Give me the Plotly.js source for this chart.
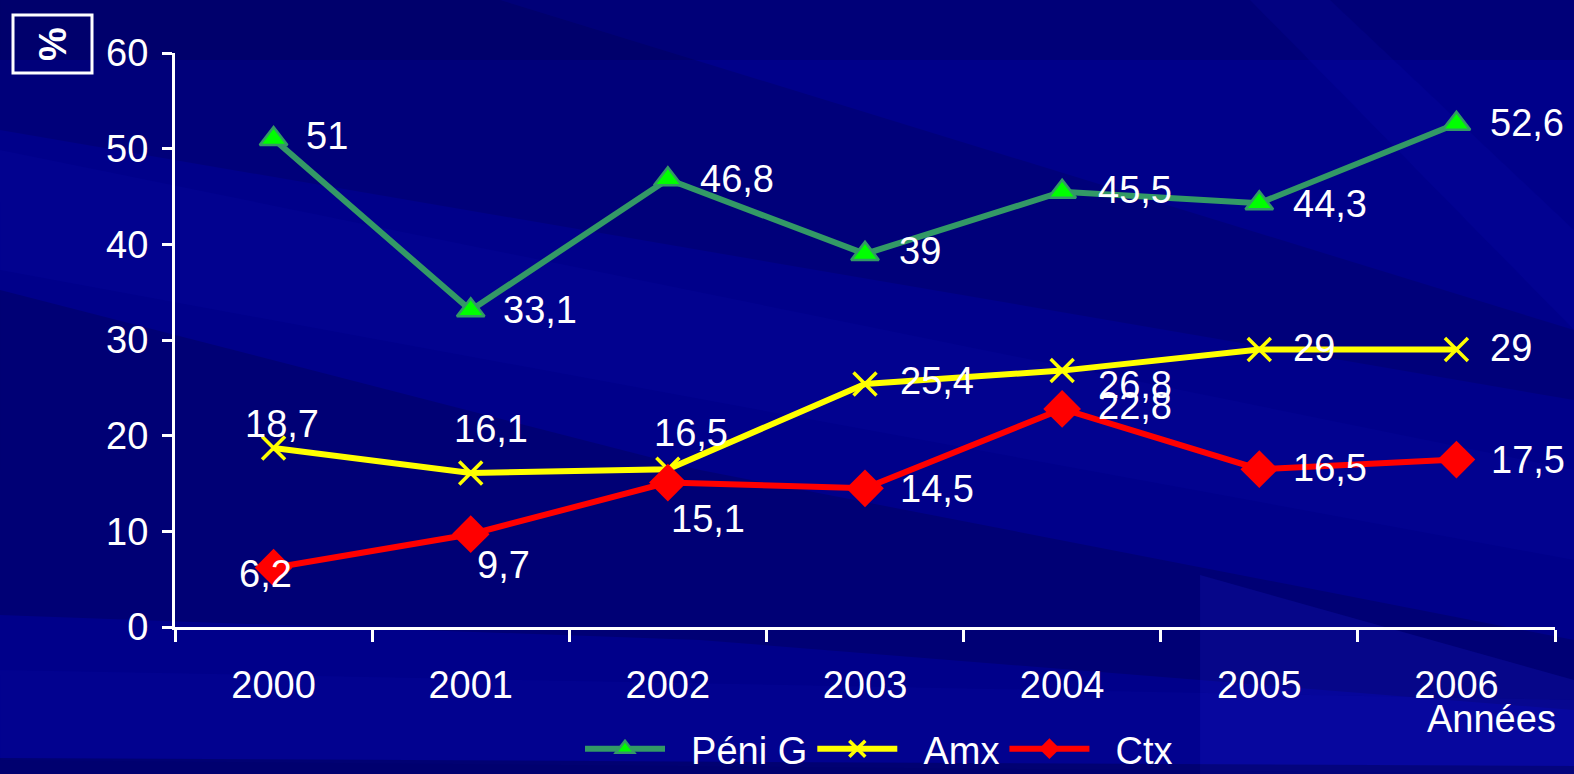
<!DOCTYPE html>
<html>
<head>
<meta charset="utf-8">
<script src="https://cdn.plot.ly/plotly-3.0.1.min.js"></script>
<style>
html,body{margin:0;padding:0;background:#00008a;}
#chart{width:1574px;height:774px;}
</style>
</head>
<body>
<div id="chart"></div>
<script>
// ---- data ----
var years = ["2000", "2001", "2002", "2003", "2004", "2005", "2006"];
var peniG = [51, 33.1, 46.8, 39, 45.5, 44.3, 52.6];
var amx   = [18.7, 16.1, 16.5, 25.4, 26.8, 29, 29];
var ctx   = [6.2, 9.7, 15.1, 14.5, 22.8, 16.5, 17.5];
var seriesNames = ["Péni G", "Amx", "Ctx"];
var yTicks = [0, 10, 20, 30, 40, 50, 60];
var xTitle = "Années";
var yTitle = "%";

// ---- label placement (style only): [xshift, yshift, xanchor] ----
var peniOff = [[30,3,"left"],[30,0,"left"],[30,0,"left"],[32,3,"left"],[34,2,"left"],[32,-1,"left"],[32,1,"left"]];
var amxOff  = [[8,24,"center"],[20,44,"center"],[23,36,"center"],[33,3,"left"],[34,-14,"left"],[32,2,"left"],[32,2,"left"]];
var ctxOff  = [[-8,-6,"center"],[4,-31,"left"],[1,-36,"left"],[33,-1,"left"],[34,3,"left"],[32,1,"left"],[33,0,"left"]];

var FONT = "Liberation Sans, Arial, sans-serif";
var FS = 38;

function fmt(v){ return String(v).replace(".", ","); }

// pixel -> paper helpers for decoration (plot area 175..1555 x, 53..627 y)
function PX(x){ return (x-175)/1380; }
function PY(y){ return (627-y)/574; }
function poly(pts){
  return "M" + pts.map(function(p){ return PX(p[0]).toFixed(4)+","+PY(p[1]).toFixed(4); }).join(" L") + " Z";
}
function bg(pts, col){
  return {type: "path", xref: "paper", yref: "paper", layer: "below", line: {width: 0},
          fillcolor: col, path: poly(pts)};
}

var GAP = "\u00a0\u00a0";

var traces = [
  {x: years, y: peniG, name: GAP + seriesNames[0], type: "scatter", mode: "lines+markers",
   line: {color: "#339966", width: 6},
   marker: {symbol: "triangle-up", size: 24, color: "#00ff00", line: {color: "#339966", width: 2.5}},
   hoverinfo: "skip"},
  {x: years, y: amx, name: GAP + seriesNames[1], type: "scatter", mode: "lines+markers",
   line: {color: "#ffff00", width: 6},
   marker: {symbol: "x-thin", size: 23, color: "#ffff00", line: {color: "#ffff00", width: 3.5}},
   hoverinfo: "skip"},
  {x: years, y: ctx, name: GAP + seriesNames[2] + "\u00a0", type: "scatter", mode: "lines+markers",
   line: {color: "#ff0000", width: 6},
   marker: {symbol: "diamond", size: 29, color: "#ff0000", line: {width: 0}},
   hoverinfo: "skip"}
];

var annotations = [];
function addLabels(vals, offs){
  vals.forEach(function(v, i){
    annotations.push({
      x: i, y: v, xref: "x", yref: "y", text: fmt(v), showarrow: false,
      xanchor: offs[i][2], yanchor: "middle", xshift: offs[i][0], yshift: offs[i][1],
      font: {family: FONT, size: FS, color: "#ffffff"}
    });
  });
}
addLabels(peniG, peniOff);
addLabels(amx, amxOff);
addLabels(ctx, ctxOff);

annotations.push({
  xref: "paper", yref: "paper", x: PX(1558), y: PY(719), xanchor: "right", yanchor: "middle",
  text: xTitle, showarrow: false, font: {family: FONT, size: FS, color: "#ffffff"}
});
annotations.push({
  xref: "paper", yref: "paper", x: PX(53), y: PY(44), xanchor: "center", yanchor: "middle",
  text: "<b>" + yTitle + "</b>", textangle: -90, showarrow: false,
  font: {family: FONT, size: 38, color: "#ffffff"}
});

var shapes = [
  bg([[0,0],[1574,0],[1574,60],[0,60]], "rgba(0,0,60,0.22)"),
  bg([[0,0],[500,0],[1574,330],[1574,400],[0,130]], "rgba(0,0,60,0.20)"),
  bg([[0,290],[700,470],[1574,640],[1574,710],[700,640],[0,615]], "rgba(0,0,50,0.24)"),
  bg([[0,150],[0,270],[1574,560],[1574,470]], "rgba(20,20,200,0.10)"),
  bg([[1250,0],[1330,0],[1574,230],[1574,330]], "rgba(20,20,200,0.12)"),
  bg([[1200,575],[1574,680],[1574,774],[1200,774]], "rgba(30,30,220,0.20)"),
  bg([[0,670],[1574,700],[1574,774],[0,760]], "rgba(20,20,200,0.10)"),
  bg([[0,758],[1574,766],[1574,774],[0,774]], "rgba(0,0,50,0.30)"),
  // % box
  {type: "rect", xref: "paper", yref: "paper", x0: PX(13), x1: PX(92), y0: PY(73), y1: PY(15),
   line: {color: "#ffffff", width: 3}, fillcolor: "rgba(0,0,0,0)"}
];

var axFont = {family: FONT, size: FS, color: "#ffffff"};

var layout = {
  width: 1574, height: 774,
  paper_bgcolor: "#00008a", plot_bgcolor: "rgba(0,0,0,0)",
  margin: {l: 175, r: 19, t: 53, b: 147, autoexpand: false},
  showlegend: true,
  legend: {orientation: "h", x: PX(580), xanchor: "left", y: PY(749), yanchor: "middle",
           bgcolor: "rgba(0,0,0,0)", font: {family: FONT, size: FS, color: "#ffffff"},
           itemwidth: 80, traceorder: "normal"},
  xaxis: {type: "category", range: [-0.5, 6.5], tickson: "boundaries",
          showline: true, linecolor: "#ffffff", linewidth: 3,
          ticks: "outside", ticklen: 12, tickwidth: 3, tickcolor: "#ffffff",
          showgrid: false, zeroline: false, tickfont: axFont, ticklabelstandoff: 22,
          fixedrange: true},
  yaxis: {range: [0, 60], tickvals: yTicks, showline: true, linecolor: "#ffffff", linewidth: 3,
          ticks: "outside", ticklen: 10, tickwidth: 3, tickcolor: "#ffffff",
          showgrid: false, zeroline: false, tickfont: axFont, ticklabelstandoff: 6,
          fixedrange: true},
  annotations: annotations,
  shapes: shapes
};

Plotly.newPlot("chart", traces, layout, {displayModeBar: false, staticPlot: true});
</script>
</body>
</html>
